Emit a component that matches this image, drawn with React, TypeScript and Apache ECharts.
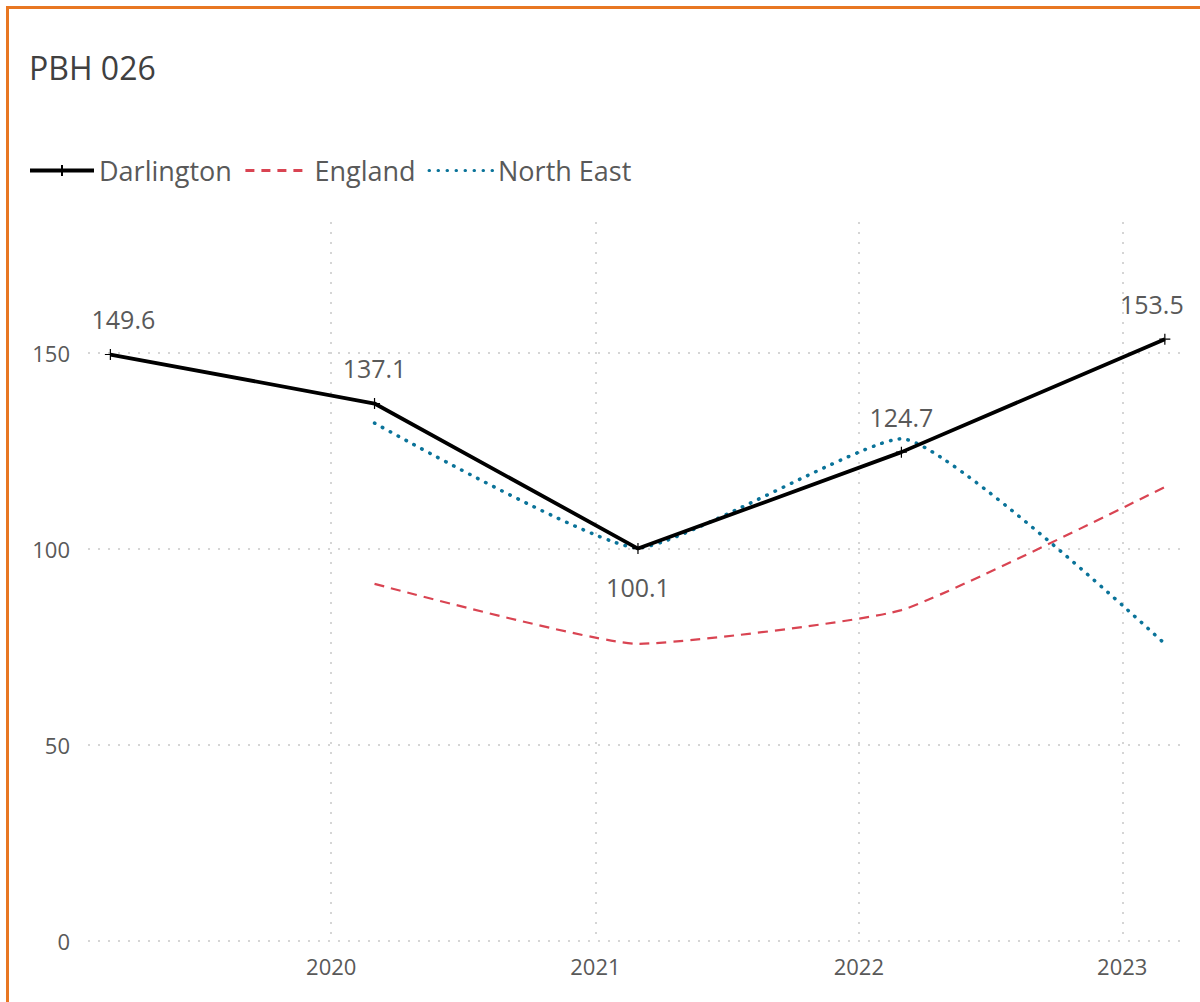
import React, { useEffect, useRef } from "react";
import * as echarts from "echarts";

const dates = ["2019-03-01", "2020-03-01", "2021-03-01", "2022-03-01", "2023-03-01"];
const darlington = [149.6, 137.1, 100.1, 124.7, 153.5];
const england = [null, 91.1, 75.8, 84.4, 115.8];
const northEast = [null, 132.1, 100.3, 128.1, 75.8];
const labelBelow = [false, false, true, false, false];
const yTicks = [0, 50, 100, 150];

const FONT = "'Open Sans', sans-serif";

function pairs(vals: (number | null)[]) {
  return dates.map((d, i) => [d, vals[i]]).filter((p) => p[1] !== null);
}

export default function App() {
  const ref = useRef<HTMLDivElement>(null);
  useEffect(() => {
    if (!ref.current) return;
    const chart = echarts.init(ref.current, undefined, { renderer: "svg" });
    const last = dates.length - 1;
    chart.setOption({
      animation: false,
      backgroundColor: "#ffffff",
      title: {
        text: "PBH 026",
        left: 24,
        top: 46,
        textStyle: { fontFamily: FONT, fontSize: 32, fontWeight: "normal", color: "#404040" },
      },
      legend: {
        left: 23,
        top: 152,
        itemWidth: 64,
        itemHeight: 14,
        itemGap: 12,
        textStyle: { fontFamily: FONT, fontSize: 27, color: "#595959", padding: [0, 0, 0, 0] },
        data: [
          { name: "Darlington", lineStyle: { width: 4 } },
          { name: "England", itemStyle: { opacity: 0 }, lineStyle: { width: 3, type: [9, 7] } },
          { name: "North East", itemStyle: { opacity: 0 }, lineStyle: { width: 3, type: [0.5, 8.5], cap: "round" } },
        ],
      },
      graphic: [
        { type: "rect", shape: { x: 6, y: 6, width: 1194, height: 3 }, style: { fill: "#E87722" } },
        { type: "rect", shape: { x: 6, y: 6, width: 3, height: 996 }, style: { fill: "#E87722" } },
      ],
      grid: { left: 88, right: 20, top: 222, bottom: 61, containLabel: false },
      xAxis: {
        type: "time",
        min: "2019-01-29",
        max: "2023-03-22",
        minInterval: 365 * 86400000,
        maxInterval: 366 * 86400000,
        axisLine: { show: false },
        axisTick: { show: false },
        axisLabel: {
          showMinLabel: false,
          showMaxLabel: false,
          fontFamily: FONT,
          fontSize: 22,
          color: "#595959",
          margin: 14,
          formatter: (v: number) => String(new Date(v).getFullYear()),
        },
        splitLine: {
          show: true,
          showMinLine: false,
          showMaxLine: false,
          lineStyle: { color: "#c8c8c8", type: [2, 8], width: 1.5 },
        },
      },
      yAxis: {
        type: "value",
        min: 0,
        max: 183.4,
        interval: 50,
        axisLine: { show: false },
        axisTick: { show: false },
        axisLabel: {
          showMaxLabel: false,
          fontFamily: FONT,
          fontSize: 22,
          color: "#595959",
          margin: 18,
          formatter: (v: number) => (yTicks.includes(v) ? String(v) : ""),
        },
        splitLine: {
          show: true,
          showMaxLine: false,
          lineStyle: { color: "#c8c8c8", type: [2, 8], width: 1.5 },
        },
      },
      series: [
        {
          name: "England",
          type: "line",
          data: pairs(england),
          smooth: 0.15,
          symbol: "none",
          z: 2,
          color: "#D94452",
          lineStyle: { color: "#D94452", width: 2.2, type: [10, 7] },
        },
        {
          name: "North East",
          type: "line",
          data: pairs(northEast),
          smooth: 0.15,
          symbol: "none",
          z: 3,
          color: "#0A7399",
          lineStyle: { color: "#0A7399", width: 3.5, type: [0.5, 8.5], cap: "round" },
        },
        {
          name: "Darlington",
          type: "line",
          z: 4,
          color: "#000000",
          data: dates.map((d, i) => ({
            value: [d, darlington[i]],
            label: {
              position: labelBelow[i] ? "bottom" : "top",
              distance: labelBelow[i] ? 18 : 15,
              offset: [i === 0 ? 13 : i === last ? -13 : 0, 0],
            },
          })),
          symbol: "path://M5 0 L5 10 M0 5 L10 5",
          symbolSize: 11,
          itemStyle: { color: "none", borderColor: "#000000", borderWidth: 1.2 },
          lineStyle: { color: "#000000", width: 3.8 },
          label: {
            show: true,
            fontFamily: FONT,
            fontSize: 25,
            color: "#595959",
            formatter: (p: any) => Number(p.value[1]).toFixed(1),
          },
        },
      ],
    });
    return () => chart.dispose();
  }, []);
  return (
    <div
      ref={ref}
      style={{ position: "absolute", left: 0, top: 0, width: 1200, height: 1002 }}
    />
  );
}
